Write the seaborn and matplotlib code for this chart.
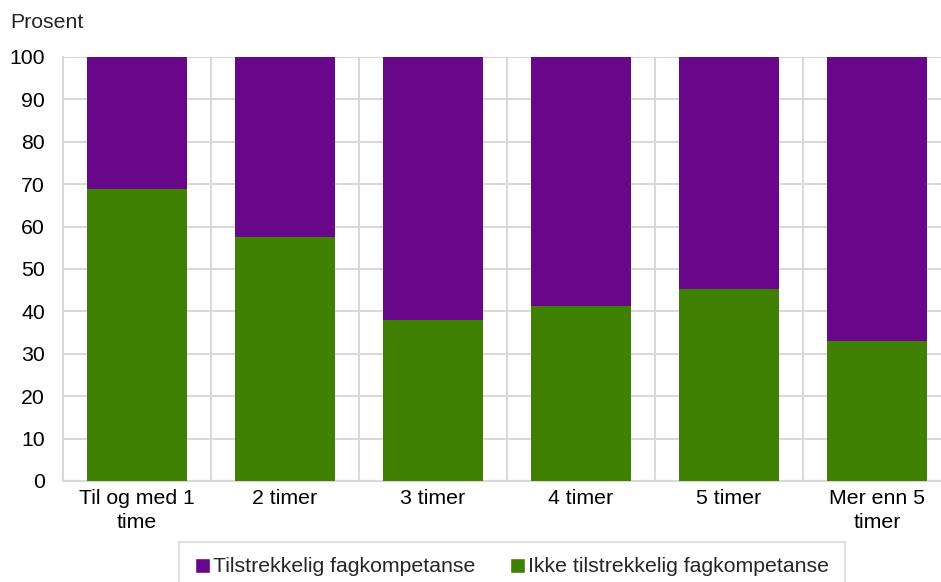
import numpy as np
import pandas as pd
import matplotlib
matplotlib.use("Agg")
import matplotlib.pyplot as plt
import seaborn as sns
from matplotlib.patches import Patch

categories = ["Til og med 1\ntime", "2 timer", "3 timer", "4 timer", "5 timer", "Mer enn 5\ntimer"]
ikke_tilstrekkelig = [68.8, 57.6, 38.0, 41.2, 45.3, 33.0]
tilstrekkelig = [31.2, 42.4, 62.0, 58.8, 54.7, 67.0]

purple = "#68078A"
green = "#3F8000"
grid_col = "#D9D9D9"
fs = 15.3

sns.set_theme(style="white")
plt.rcParams["font.family"] = ["Liberation Sans", "DejaVu Sans"]

df = pd.DataFrame({
    "kategori": categories,
    "ikke": ikke_tilstrekkelig,
    "tils": tilstrekkelig,
})
df["total"] = df["ikke"] + df["tils"]

fig = plt.figure(figsize=(9.41, 5.82), dpi=100)
ax = fig.add_axes([63 / 941, 1 - 481 / 582, 888 / 941, 424 / 582])

# stacked: purple total first, green on top of it
sns.barplot(data=df, x="kategori", y="total", color=purple, width=0.676,
            saturation=1, linewidth=0, ax=ax, zorder=3)
sns.barplot(data=df, x="kategori", y="ikke", color=green, width=0.676,
            saturation=1, linewidth=0, ax=ax, zorder=3)

ax.set_ylim(0, 100)
ax.set_xlim(-0.5, len(categories) - 0.5)
ax.set_yticks(np.arange(0, 101, 10))
ax.set_xticks(np.arange(len(categories)))
ax.set_xticklabels(categories, linespacing=1.3)
ax.set_xticks(np.arange(len(categories)) + 0.5, minor=True)
ax.grid(axis="y", which="major", color=grid_col, lw=1.5, zorder=0)
ax.grid(axis="x", which="minor", color=grid_col, lw=1.5, zorder=0)
ax.grid(axis="x", which="major", visible=False)
ax.set_axisbelow(True)

for s in ["top", "right"]:
    ax.spines[s].set_visible(False)
for s in ["left", "bottom"]:
    ax.spines[s].set_color(grid_col)
    ax.spines[s].set_linewidth(1.5)

ax.tick_params(axis="both", which="both", length=0, labelsize=fs, colors="black")
ax.tick_params(axis="y", pad=13)
ax.tick_params(axis="x", pad=6)
ax.set_xlabel("")
ax.set_ylabel("")

fig.text(10 / 941, 1 - 22 / 582, "Prosent", fontsize=fs, va="center", ha="left")

handles = [Patch(facecolor=purple, label="Tilstrekkelig fagkompetanse"),
           Patch(facecolor=green, label="Ikke tilstrekkelig fagkompetanse")]
leg = fig.legend(handles=handles, loc="center", bbox_to_anchor=(512 / 941, 1 - 567 / 582),
                 ncol=2, frameon=True, fontsize=fs, handlelength=0.7, handleheight=0.7,
                 handletextpad=0.15, columnspacing=1.6, borderpad=0.75, borderaxespad=0,
                 fancybox=False)
leg.get_frame().set_edgecolor(grid_col)
leg.get_frame().set_linewidth(1.5)

fig.savefig("out.png", dpi=100)
